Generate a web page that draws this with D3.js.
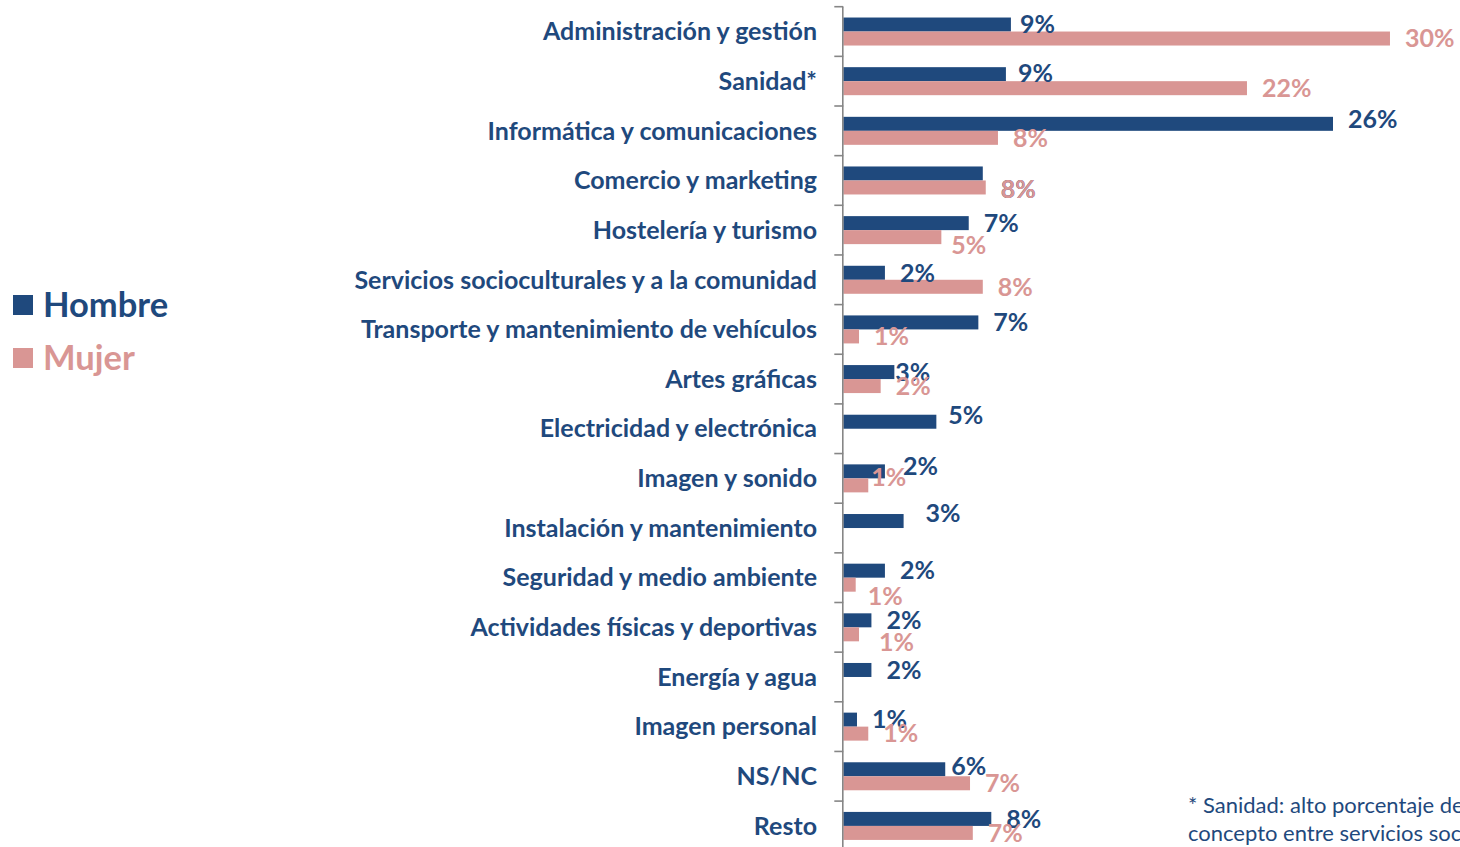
<!DOCTYPE html>
<html>
<head>
<meta charset="utf-8">
<script src="https://cdn.jsdelivr.net/npm/d3@7"></script>
<style>
  html, body { margin: 0; padding: 0; background: #fff; }
  svg { display: block; }
  text { font-family: Lato, "Open Sans", sans-serif; }
</style>
</head>
<body>
<svg id="chart" width="1460" height="847"></svg>
<script>
// ---- Data ----
const categories = [
  "Administración y gestión",
  "Sanidad*",
  "Informática y comunicaciones",
  "Comercio y marketing",
  "Hostelería y turismo",
  "Servicios socioculturales y a la comunidad",
  "Transporte y mantenimiento de vehículos",
  "Artes gráficas",
  "Electricidad y electrónica",
  "Imagen y sonido",
  "Instalación y mantenimiento",
  "Seguridad y medio ambiente",
  "Actividades físicas y deportivas",
  "Energía y agua",
  "Imagen personal",
  "NS/NC",
  "Resto"
];
const seriesNames = ["Hombre", "Mujer"];
const hombre = [9.06, 8.79, 26.47, 7.54, 6.78, 2.25, 7.30, 2.76, 5.03, 2.25, 3.26, 2.25, 1.52, 1.52, 0.74, 5.51, 8.0];
const mujer  = [29.55, 21.82, 8.36, 7.70, 5.30, 7.54, 0.85, 2.02, null, 1.35, null, 0.67, 0.85, null, 1.35, 6.85, 7.0];
const footnoteLines = [
  "* Sanidad: alto porcentaje de respuestas que engloban este",
  "concepto entre servicios sociosanitarios y socioculturales"
];

// ---- Styles / layout ----
const colors = { Hombre: "#1F497D", Mujer: "#D99694" };
const axisX = 843.3;
const pxPerUnit = 18.5;

// label adjustments (manual label placement seen in the original)
const labelNudge = {
  "Administración y gestión|Hombre": [-6, 0],
  "Sanidad*|Hombre": [-3, -1],
  "Informática y comunicaciones|Hombre": [0, -5],
  "Comercio y marketing|Hombre": [3, 16],
  "Comercio y marketing|Mujer": [0, 2],
  "Hostelería y turismo|Mujer": [-5, 8],
  "Artes gráficas|Hombre": [-14, 0],
  "Electricidad y electrónica|Hombre": [-3, -6],
  "Imagen y sonido|Hombre": [3, -5],
  "Imagen y sonido|Mujer": [-12, -8],
  "Instalación y mantenimiento|Hombre": [7, -8],
  "Seguridad y medio ambiente|Mujer": [-3, 12],
  "Actividades físicas y deportivas|Mujer": [5, 8],
  "NS/NC|Hombre": [-9, -3]
};

const svg = d3.select("#chart");

const x = d3.scaleLinear().domain([0, 30]).range([axisX, axisX + 30 * pxPerUnit]);

const pInner = 0.436;
const y0 = d3.scaleBand()
  .domain(categories)
  .range([6.7, 6.7 + 17 * 49.65])
  .paddingInner(pInner)
  .paddingOuter(pInner / 2);
const y1 = d3.scaleBand().domain(seriesNames).range([0, y0.bandwidth()]);
const step = y0.step();

const rows = categories.map((c, i) => ({ cat: c, Hombre: hombre[i], Mujer: mujer[i] }));

// Bars
const groups = svg.append("g").selectAll("g")
  .data(rows).join("g")
  .attr("transform", d => `translate(0,${y0(d.cat)})`);

groups.selectAll("rect")
  .data(d => seriesNames.filter(s => d[s] != null).map(s => ({ cat: d.cat, s, v: d[s] })))
  .join("rect")
  .attr("x", x(0))
  .attr("y", d => y1(d.s))
  .attr("width", d => x(d.v) - x(0))
  .attr("height", y1.bandwidth())
  .attr("fill", d => colors[d.s]);

// Axis line and ticks at band boundaries
const axisG = svg.append("g");
const yTop = y0(categories[0]) - step * pInner / 2;
const yBottom = y0(categories[categories.length - 1]) + y0.bandwidth() + step * pInner / 2;
axisG.append("line")
  .attr("x1", axisX - 0.5).attr("x2", axisX - 0.5)
  .attr("y1", yTop).attr("y2", yBottom)
  .attr("stroke", "#868686").attr("stroke-width", 1.6);
const tickYs = categories.map(c => y0(c) - step * pInner / 2).concat([yBottom]);
axisG.selectAll("line.tick").data(tickYs).join("line")
  .attr("class", "tick")
  .attr("x1", axisX - 9).attr("x2", axisX)
  .attr("y1", d => d).attr("y2", d => d)
  .attr("stroke", "#868686").attr("stroke-width", 1.6);

// Category labels
svg.append("g").selectAll("text")
  .data(categories).join("text")
  .attr("x", 817)
  .attr("y", d => y0(d) + y0.bandwidth() / 2)
  .attr("dy", "0.35em")
  .attr("text-anchor", "end")
  .attr("font-size", 25)
  .attr("font-weight", 700)
  .attr("fill", "#1F497D")
  .text(d => d);

// Value labels
const fmt = d3.format(".0f");
const labels = [];
rows.forEach(r => seriesNames.forEach(s => { if (r[s] != null) labels.push({ cat: r.cat, s, v: r[s] }); }));
svg.append("g").selectAll("text")
  .data(labels).join("text")
  .attr("x", d => x(d.v) + 15 + (labelNudge[d.cat + "|" + d.s] || [0, 0])[0])
  .attr("y", d => y0(d.cat) + y1(d.s) + y1.bandwidth() / 2 + (labelNudge[d.cat + "|" + d.s] || [0, 0])[1])
  .attr("dy", "0.35em")
  .attr("font-size", 25)
  .attr("font-weight", 700)
  .attr("fill", d => colors[d.s])
  .text(d => fmt(d.v) + "%");

// Legend
const legend = svg.append("g");
seriesNames.forEach((s, i) => {
  const ly = 305 + i * 53;
  legend.append("rect")
    .attr("x", 13).attr("y", ly - 10).attr("width", 20).attr("height", 20)
    .attr("fill", colors[s]);
  legend.append("text")
    .attr("x", 43).attr("y", ly).attr("dy", "0.35em")
    .attr("font-size", 34.5).attr("font-weight", 700)
    .attr("fill", colors[s])
    .text(s);
});

// Footnote
svg.append("g").selectAll("text")
  .data(footnoteLines).join("text")
  .attr("x", 1188)
  .attr("y", (d, i) => 805 + i * 28)
  .attr("dy", "0.35em")
  .attr("font-size", 22)
  .attr("fill", "#1F497D")
  .text(d => d);
</script>
</body>
</html>
